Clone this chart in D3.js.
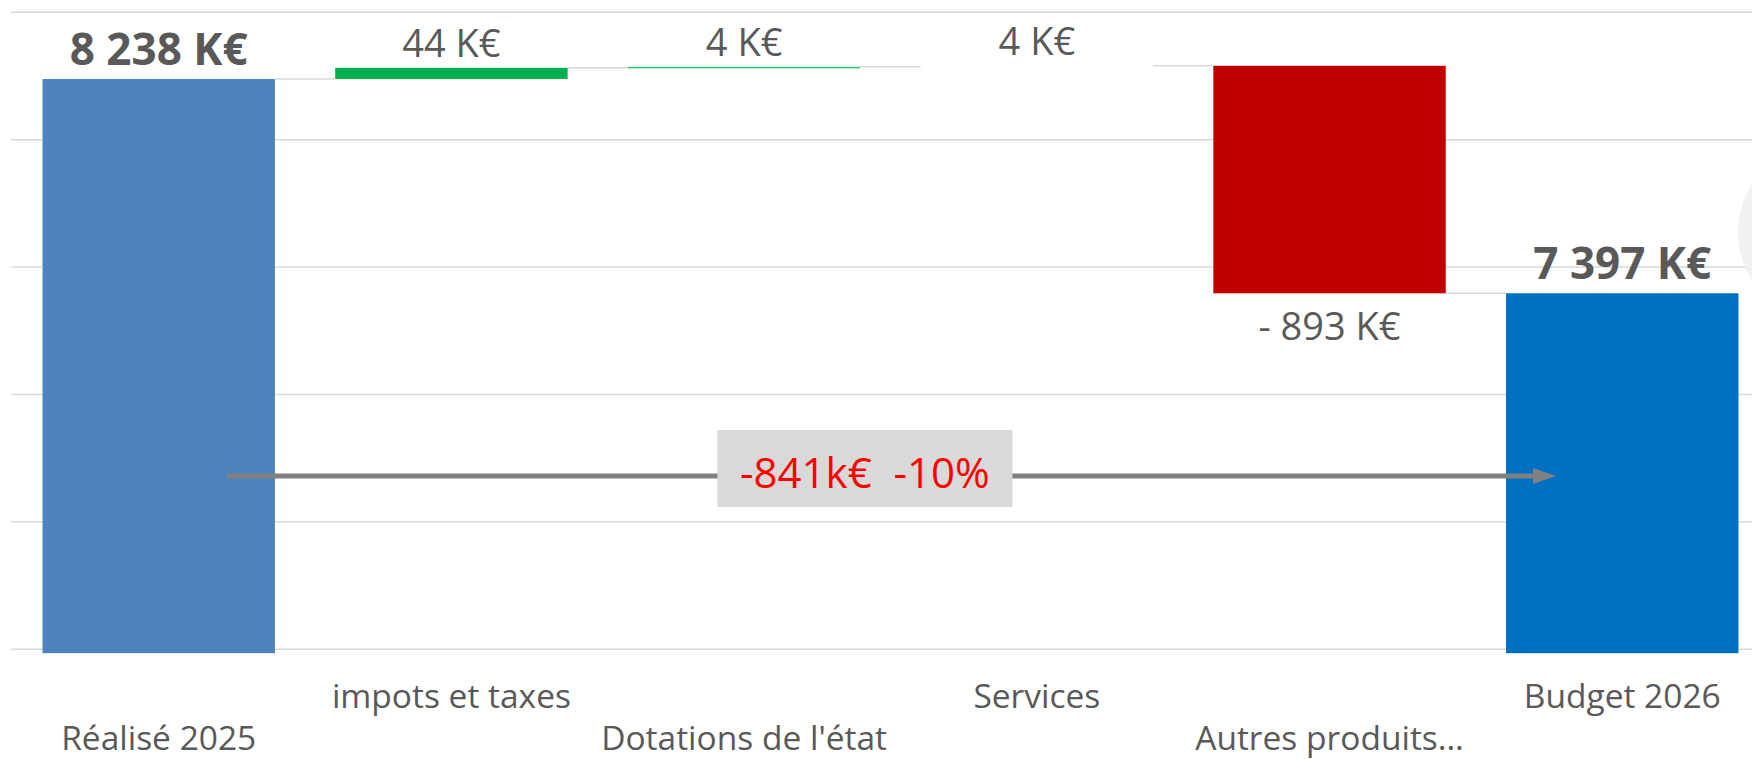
<!DOCTYPE html>
<html>
<head>
<meta charset="utf-8">
<script src="https://cdn.jsdelivr.net/npm/d3@7"></script>
<style>
  html, body { margin: 0; padding: 0; background: #ffffff; }
  svg { display: block; font-family: "Open Sans", "Noto Sans", sans-serif; }
</style>
</head>
<body>
<svg id="chart" width="1752" height="759"></svg>
<script>
// ---- data ----
const categories = ["Réalisé 2025", "impots et taxes", "Dotations de l'état", "Services", "Autres produits…", "Budget 2026"];
const values = [8238, 44, 4, 4, -893, 7397];
const kinds = ["total", "delta", "delta", "delta", "delta", "total"];
const yTicks = [6000, 6500, 7000, 7500, 8000, 8500];
const yDomain = [6000, 8500];

// ---- styles ----
const barColors = ["#4f81bd", "#00b050", "#00b050", "none", "#c00000", "#0070c0"];
const textGray = "#595959";
const gridColor = "#d9d9d9";

const W = 1752, H = 759;
const svg = d3.select("#chart");

const x = d3.scaleBand().domain(categories).range([12.35, 1768.6]).paddingInner(0.206).paddingOuter(0.103);
const y = d3.scaleLinear().domain(yDomain).range([649.2, 12.3]);
const bw = x.bandwidth();

// build waterfall
let running = 0;
const bars = categories.map((c, i) => {
  let lo, hi, end;
  if (kinds[i] === "total") {
    lo = yDomain[0]; hi = values[i]; end = values[i];
    running = values[i];
  } else {
    const start = running;
    end = start + values[i];
    lo = Math.min(start, end); hi = Math.max(start, end);
    running = end;
  }
  return { cat: c, i, lo, hi, end, value: values[i], kind: kinds[i] };
});

// gridlines
svg.append("g").selectAll("line").data(yTicks).join("line")
  .attr("x1", 11).attr("x2", W)
  .attr("y1", d => y(d)).attr("y2", d => y(d))
  .attr("stroke", gridColor).attr("stroke-width", 1.5);

// decorative grey circle at right edge
svg.append("circle").attr("cx", 1829).attr("cy", 232).attr("r", 91).attr("fill", "#f1f1f1");

// connectors
const conn = [];
for (let i = 0; i < bars.length - 1; i++) {
  conn.push({ x1: x(categories[i]) + bw, x2: x(categories[i + 1]), v: bars[i].end });
}
svg.append("g").selectAll("line").data(conn).join("line")
  .attr("x1", d => d.x1).attr("x2", d => d.x2)
  .attr("y1", d => y(d.v)).attr("y2", d => y(d.v))
  .attr("stroke", gridColor).attr("stroke-width", 1.5);

// bars
const overhang = 4;
svg.append("g").selectAll("rect").data(bars).join("rect")
  .attr("x", d => x(d.cat))
  .attr("width", bw)
  .attr("y", d => y(d.hi))
  .attr("height", d => Math.max(1.5, y(d.lo) - y(d.hi) + (d.kind === "total" ? overhang : 0)))
  .attr("fill", (d, i) => barColors[i])
  .attr("opacity", (d, i) => (d.kind === "delta" && Math.abs(d.value) < 10) ? 0.8 : 1);

// value labels
const fr = d3.formatLocale({ decimal: ",", thousands: " ", grouping: [3], currency: ["", "€"] });
const fmt = fr.format(",d");
const labelText = d => d.value < 0 ? "- " + fmt(-d.value) + " K€" : fmt(d.value) + " K€";

svg.append("g").selectAll("text").data(bars).join("text")
  .attr("x", d => x(d.cat) + bw / 2)
  .attr("y", d => {
    if (d.kind === "total") return y(d.hi) - 14;
    if (d.value < 0) return y(d.lo) + 47;
    return y(d.hi) - 11;
  })
  .attr("text-anchor", "middle")
  .attr("fill", textGray)
  .attr("font-size", d => d.kind === "total" ? 44 : 38)
  .attr("font-weight", d => d.kind === "total" ? 700 : 400)
  .text(labelText);

// category labels (staggered)
svg.append("g").selectAll("text").data(categories).join("text")
  .attr("x", d => x(d) + bw / 2)
  .attr("y", (d, i) => i % 2 === 1 ? 708 : 750)
  .attr("text-anchor", "middle")
  .attr("fill", textGray)
  .attr("font-size", 33.5)
  .text(d => d);

// change arrow annotation
const startV = values[0], endV = values[values.length - 1];
const delta = endV - startV;
const pct = Math.round(delta / startV * 100);
const ax1 = x(categories[0]) + bw * 0.794;
const ax2 = x(categories[categories.length - 1]) + bw * 0.215;
const ay = y(6680);
const headLen = 23, headHalf = 8;

svg.append("line")
  .attr("x1", ax1).attr("x2", ax2 - headLen + 2)
  .attr("y1", ay).attr("y2", ay)
  .attr("stroke", "#808080").attr("stroke-width", 5);
svg.append("path")
  .attr("d", `M${ax2},${ay} L${ax2 - headLen},${ay - headHalf} L${ax2 - headLen},${ay + headHalf} Z`)
  .attr("fill", "#808080");

const boxCx = ax1 + (ax2 - ax1) * 0.48;
const boxW = 295, boxH = 77;
svg.append("rect")
  .attr("x", boxCx - boxW / 2).attr("y", ay - 46)
  .attr("width", boxW).attr("height", boxH)
  .attr("fill", "#d9d9d9");
svg.append("text")
  .attr("x", boxCx).attr("y", ay + 12)
  .attr("text-anchor", "middle")
  .attr("fill", "#ff0000")
  .attr("font-size", 42)
  .attr("xml:space", "preserve")
  .style("white-space", "pre")
  .text(`${delta}k€  ${pct}%`);
</script>
</body>
</html>
